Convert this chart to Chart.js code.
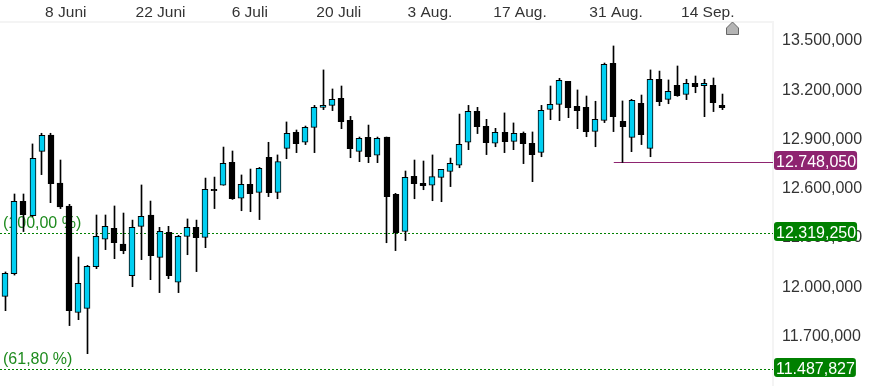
<!DOCTYPE html>
<html><head><meta charset="utf-8">
<style>html,body{margin:0;padding:0;background:#fff}canvas{display:block}</style>
<script src="https://cdn.jsdelivr.net/npm/chart.js@4/dist/chart.umd.min.js"></script>
</head><body><canvas id="c" width="873" height="386"></canvas>
<script>
const opens=[11932,12071,12511,12424,12816,12915,12623,12483,11835,11859,12113,12280,12347,12251,12058,12359,12428,12170,12322,12018,12298,12353,12292,12584,12609,12749,12530,12615,12566,12779,12566,12834,12932,12871,12962,13084,13096,13139,13005,12816,12901,12792,12903,12554,12328,12664,12621,12609,12657,12694,12731,12871,13060,12968,12865,12932,12877,12926,12865,12810,13072,13102,13242,13090,13084,12938,13005,13352,12999,12901,13108,12834,13255,13133,13218,13163,13230,13216,13218,13096];
const closes=[12073,12511,12430,12773,12913,12619,12477,11845,12012,12115,12298,12359,12259,12211,12353,12420,12180,12328,12058,12298,12353,12290,12584,12576,12743,12527,12615,12558,12712,12564,12753,12926,12863,12962,13084,13096,13133,12997,12832,12895,12783,12895,12540,12320,12657,12619,12607,12662,12706,12743,12859,13060,12966,12869,12932,12875,12926,12863,12796,13066,13102,13248,13082,13064,12936,13011,13346,13027,12966,13127,12917,13255,13118,13181,13155,13230,13210,13230,13112,13082];
const highs=[12081,12556,12556,12861,12926,12926,12763,12493,12172,12121,12428,12428,12483,12440,12397,12611,12513,12353,12359,12304,12404,12397,12653,12659,12842,12818,12672,12708,12718,12871,12794,12995,12946,12970,13096,13312,13196,13214,13029,12903,12976,12903,12903,12560,12696,12763,12757,12794,12706,12775,13043,13096,13084,13011,12956,13050,12989,12934,12934,13096,13214,13261,13242,13190,13153,13121,13354,13458,13123,13133,13159,13312,13305,13251,13336,13255,13275,13255,13263,13165];
const lows=[11845,12062,12327,12418,12674,12503,12467,11754,11790,11583,12101,12217,12162,12192,11991,12156,12034,11955,12040,11955,12186,12083,12229,12467,12609,12523,12454,12448,12400,12540,12527,12771,12808,12857,12808,13070,13064,12954,12777,12753,12747,12747,12259,12211,12272,12527,12582,12515,12509,12601,12716,12826,12924,12796,12844,12808,12826,12741,12631,12783,13009,13003,13021,12954,12905,12844,12991,12936,12748,12814,12857,12783,13094,13106,13151,13131,13173,13027,13058,13070];
const sessionRange=[-0.617,84.54];
const dateLabels=['8 Juni','22 Juni','6 Juli','20 Juli','3 Aug.','17 Aug.','31 Aug.','14 Sep.'];
const dateSessions=[6.63,17.07,26.9,36.7,46.75,56.67,67.25,77.35];
const priceTicks=[11700,12000,12300,12600,12900,13200,13500];
const priceRange=[11386,13604];
const fib100=12319.25, fib618=11487.827;
const fib100Label='(100,00 %)', fib618Label='(61,80 %)';
const supportLevel=12748.05, supportStart=67;
const markerSession=80;

const FONT='"Liberation Sans", Arial, sans-serif';
const CYAN='#00CFF2', GREEN='#008000', PURPLE='#8E2470';
const fmt=v=>v.toLocaleString('de-DE',{minimumFractionDigits:3,maximumFractionDigits:3});
const wicks=highs.map((h,i)=>({x:i,y:[lows[i],h]}));
const upBodies=[],downBodies=[];
closes.forEach((c,i)=>{ if(c>opens[i]) upBodies.push({x:i,y:[opens[i],c]}); else downBodies.push({x:i,y:[c,opens[i]]}); });
const hline=(v,from,to,color,dash)=>({type:'line',xAxisID:'xTop',order:5,data:[{x:from,y:v},{x:to,y:v}],borderColor:color,borderWidth:1,borderDash:dash,pointRadius:0,fill:false});

const snapPlugin={id:'snap',afterDatasetsUpdate(ch){
  ch.data.datasets.forEach((d,i)=>{
    const els=ch.getDatasetMeta(i).data;
    if(d.type==='line'){ els.forEach(el=>{el.y=Math.round(el.y)+0.5}); return; }
    els.forEach(el=>{
      el.x = d.snap==='half' ? Math.floor(el.x)+0.5 : Math.round(el.x-0.3);
    });
  });
}};
const overlayPlugin={id:'overlay',
  beforeDatasetsDraw(ch){
    const c=ch.ctx,y=ch.scales.y;c.save();
    c.font='16px '+FONT;c.fillStyle='#1E8B1E';c.textAlign='left';c.textBaseline='middle';
    c.fillText(fib100Label,3,y.getPixelForValue(fib100)-9.5);
    c.fillText(fib618Label,3,y.getPixelForValue(fib618)-9.5);
    c.restore();
  },
  afterDraw(ch){
    const c=ch.ctx,y=ch.scales.y,xt=ch.scales.xTop;c.save();
    const badge=(v,col)=>{
      const py=Math.round(y.getPixelForValue(v));
      c.font='16px '+FONT;const t=fmt(v),w=c.measureText(t).width;
      c.fillStyle=col;c.beginPath();c.roundRect(774,py-11,w+3,19,3);c.fill();
      c.fillStyle='#fff';c.textAlign='left';c.textBaseline='middle';c.fillText(t,776,py+1);
    };
    badge(supportLevel,PURPLE);badge(fib100,GREEN);badge(fib618,GREEN);
    const mx=Math.round(xt.getPixelForValue(markerSession))+0.5,top=ch.chartArea.top;
    c.beginPath();c.moveTo(mx,top);c.lineTo(mx+6,top+6);c.lineTo(mx+6,top+12.5);c.lineTo(mx-6,top+12.5);c.lineTo(mx-6,top+6);c.closePath();
    c.fillStyle='#B4B4B4';c.fill();c.strokeStyle='#666';c.lineWidth=1;c.stroke();
    c.restore();
  }};

const barBase={xAxisID:'xTop',grouped:false};
new Chart(document.getElementById('c'),{
  type:'bar',
  data:{datasets:[
    {...barBase,label:'Wick',data:wicks,backgroundColor:'#000',barThickness:1,order:3,snap:'half'},
    {...barBase,label:'Up',data:upBodies,backgroundColor:CYAN,borderColor:'#000',borderWidth:1,borderSkipped:false,barThickness:6,order:2},
    {...barBase,label:'Down',data:downBodies,backgroundColor:'#000',borderColor:'#000',borderWidth:1,borderSkipped:false,barThickness:6,order:2},
    hline(fib100,sessionRange[0],sessionRange[1],GREEN,[2,2]),
    hline(fib618,sessionRange[0],sessionRange[1],GREEN,[2,2]),
    hline(supportLevel,supportStart,sessionRange[1],PURPLE,[])
  ]},
  options:{
    responsive:false,animation:false,
    layout:{padding:0},
    plugins:{legend:{display:false},tooltip:{enabled:false},title:{display:false}},
    scales:{
      xTop:{type:'linear',axis:'x',position:'top',offset:false,min:sessionRange[0],max:sessionRange[1],
        afterFit:s=>{s.height=22;s.paddingLeft=0;s.paddingRight=0},
        afterBuildTicks:s=>{s.ticks=dateSessions.map(v=>({value:v}))},
        grid:{display:false,drawTicks:false,offset:false},
        border:{display:true,color:'#F4F4F4',width:2},
        ticks:{autoSkip:false,maxRotation:0,minRotation:0,padding:0,color:'#333',font:{family:FONT,size:15.5},
          callback:v=>dateLabels[dateSessions.indexOf(v)]}
      },
      y:{type:'linear',position:'right',min:priceRange[0],max:priceRange[1],
        afterFit:s=>{s.width=100;s.paddingTop=0;s.paddingBottom=0},
        afterBuildTicks:s=>{s.ticks=priceTicks.map(v=>({value:v}))},
        grid:{display:false,drawTicks:false},
        border:{display:true,color:'#F4F4F4',width:2},
        ticks:{padding:9,labelOffset:2,color:'#333',font:{family:FONT,size:16},callback:v=>fmt(v)}
      }
    }
  },
  plugins:[snapPlugin,overlayPlugin]
});
</script></body></html>
